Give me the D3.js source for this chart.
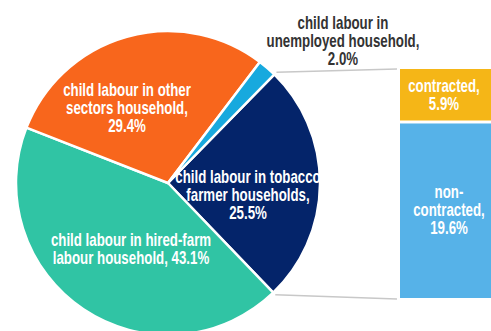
<!DOCTYPE html>
<html>
<head>
<meta charset="utf-8">
<script src="https://cdn.jsdelivr.net/npm/d3@7/dist/d3.min.js"></script>
<style>
  html, body { margin: 0; padding: 0; background: #fff; }
  svg { display: block; }
  text { font-family: "Liberation Sans Narrow", "Arial Narrow", "Liberation Sans", Arial, sans-serif; font-weight: bold; }
</style>
</head>
<body>
<svg id="chart" width="491" height="331"></svg>
<script>
// Share of child labour by household type (pie), with tobacco split out (bar)
const sectors = ["tobacco", "hired", "other", "unemployed"];
const sectorValues = [25.5, 43.1, 29.4, 2.0];
const sectorLabels = [
  ["child labour in tobacco", "farmer households,", "25.5%"],
  ["child labour in hired-farm", "labour household, 43.1%"],
  ["child labour in other", "sectors household,", "29.4%"],
  ["child labour in", "unemployed household,", "2.0%"]
];
const sectorColors = ["#04246A", "#30C4A4", "#F8661C", "#17A9DE"];

const tobaccoParts = ["contracted", "non-contracted"];
const tobaccoValues = [5.9, 19.6];
const tobaccoLabels = [
  ["contracted,", "5.9%"],
  ["non-", "contracted,", "19.6%"]
];
const tobaccoColors = ["#F5B617", "#56B2E8"];

// layout
const cx = 168, cy = 183, R = 152;
const startDeg = 44.4;
const labelPos = [
  { x: 248, y: 177, fill: "#fff" },
  { x: 131, y: 240, fill: "#fff" },
  { x: 127, y: 90, fill: "#fff" },
  { x: 343, y: 23, fill: "#333" }
];
const barX = 400, barW = 95, barTop = 69, barBottom = 298, barGap = 3;
const lineH = 17.8;
const fontSize = 17.5;
const squeeze = 0.76; // condensed lettering

const svg = d3.select("#chart");
const rad = d => d * Math.PI / 180;

const pie = d3.pie().sort(null).value(d => d.value)
  .startAngle(rad(startDeg)).endAngle(rad(startDeg) + 2 * Math.PI);
const arcs = pie(sectors.map((k, i) => ({ key: k, value: sectorValues[i], i })));
const arc = d3.arc().innerRadius(0).outerRadius(R);

const g = svg.append("g").attr("transform", `translate(${cx},${cy})`);
g.selectAll("path").data(arcs).join("path")
  .attr("d", arc)
  .attr("fill", d => sectorColors[d.data.i])
  .attr("stroke", "#fff")
  .attr("stroke-width", 2.5)
  .attr("stroke-linejoin", "round");

// stacked bar for the tobacco slice
const y = d3.scaleLinear().domain([0, d3.sum(tobaccoValues)]).range([barTop, barBottom]);
let acc = 0;
const stacks = tobaccoValues.map((v, i) => {
  const s = { i, y0: acc, y1: acc + v };
  acc += v;
  return s;
});
svg.selectAll("rect.part").data(stacks).join("rect")
  .attr("class", "part")
  .attr("x", barX)
  .attr("width", barW)
  .attr("y", d => y(d.y0) + (d.i > 0 ? barGap / 2 : 0))
  .attr("height", d => y(d.y1) - y(d.y0) - (d.i > 0 ? barGap / 2 : 0) - (d.i < stacks.length - 1 ? barGap / 2 : 0))
  .attr("fill", d => tobaccoColors[d.i]);

// connector lines from the tobacco slice edges to the bar
const tob = arcs[0];
const edgePt = a => [cx + (R + 3) * Math.sin(a), cy - (R + 3) * Math.cos(a)];
const p0 = edgePt(tob.startAngle), p1 = edgePt(tob.endAngle);
svg.append("line").attr("x1", p0[0]).attr("y1", p0[1]).attr("x2", barX - 3).attr("y2", y(0))
  .attr("stroke", "#c8c8c8").attr("stroke-width", 1.5);
svg.append("line").attr("x1", p1[0]).attr("y1", p1[1]).attr("x2", barX - 3).attr("y2", y(d3.sum(tobaccoValues)) + 1)
  .attr("stroke", "#c8c8c8").attr("stroke-width", 1.5);

function multiline(sel, lines, x, y0, fill) {
  const t = sel.append("text")
    .attr("transform", `translate(${x},0) scale(${squeeze},1)`)
    .attr("text-anchor", "middle")
    .attr("font-size", fontSize)
    .attr("fill", fill);
  lines.forEach((ln, k) => {
    t.append("tspan").attr("x", 0).attr("y", y0 + k * lineH).attr("dy", "0.35em").text(ln);
  });
}

sectorLabels.forEach((lines, i) => multiline(svg, lines, labelPos[i].x, labelPos[i].y, labelPos[i].fill));

const barLabelX = [444, 449];
stacks.forEach((s, i) => {
  const lines = tobaccoLabels[i];
  const mid = (y(s.y0) + y(s.y1)) / 2;
  const off = i === 0 ? -1 : 0;
  multiline(svg, lines, barLabelX[i], mid - (lines.length - 1) * lineH / 2 + off, "#fff");
});
</script>
</body>
</html>
